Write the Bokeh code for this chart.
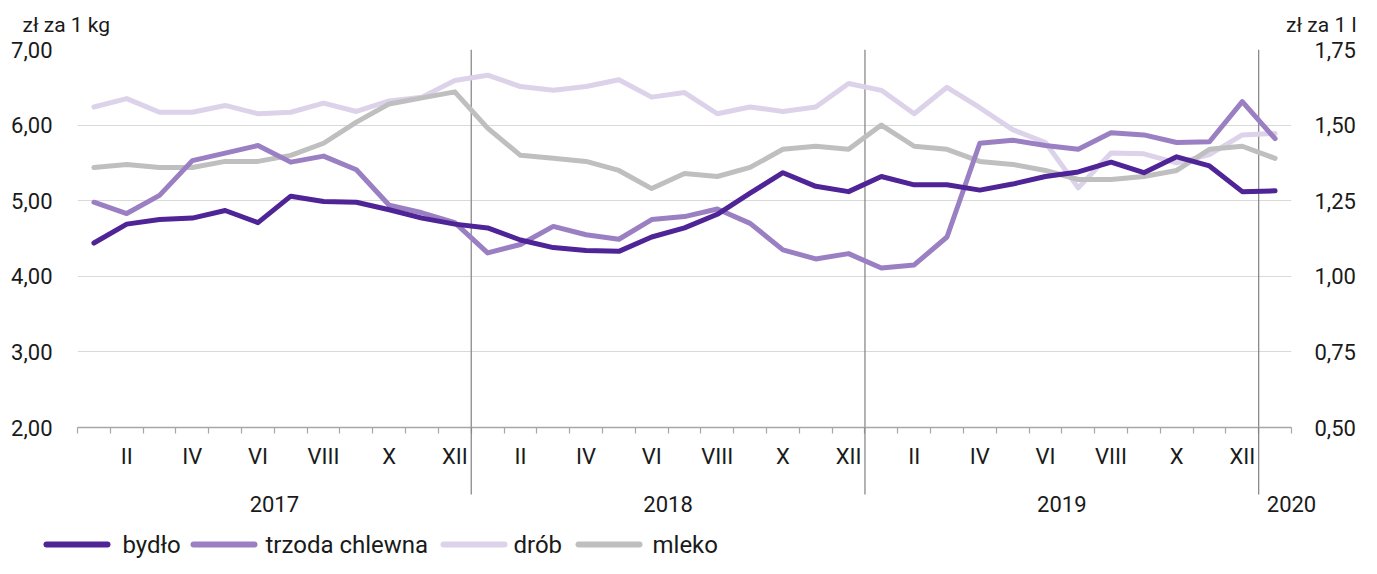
from bokeh.plotting import figure
from bokeh.models import Range1d, LinearAxis, FixedTicker, Grid
from bokeh.core.properties import value
from bokeh.embed import file_html
from bokeh.resources import INLINE

# ---------------- data ----------------
ROMAN = ["I", "II", "III", "IV", "V", "VI", "VII", "VIII", "IX", "X", "XI", "XII"]
YEARS = ["2017", "2018", "2019", "2020"]
N_MONTHS = 37  # I 2017 .. I 2020

bydlo = [4.44, 4.69, 4.75, 4.77, 4.87, 4.71, 5.06, 4.99, 4.98, 4.88, 4.77, 4.69,
         4.64, 4.48, 4.38, 4.34, 4.33, 4.52, 4.64, 4.82, 5.10, 5.37, 5.19, 5.12,
         5.32, 5.21, 5.21, 5.14, 5.22, 5.32, 5.38, 5.51, 5.37, 5.58, 5.46, 5.12, 5.13]
trzoda = [4.98, 4.83, 5.07, 5.53, 5.63, 5.73, 5.51, 5.59, 5.41, 4.94, 4.84, 4.71,
          4.31, 4.42, 4.66, 4.55, 4.49, 4.75, 4.79, 4.89, 4.70, 4.35, 4.23, 4.30,
          4.11, 4.15, 4.52, 5.76, 5.80, 5.73, 5.68, 5.90, 5.87, 5.77, 5.78, 6.31, 5.82]
drob = [6.24, 6.35, 6.17, 6.17, 6.26, 6.15, 6.17, 6.29, 6.18, 6.32, 6.37, 6.59,
        6.66, 6.51, 6.46, 6.51, 6.60, 6.37, 6.43, 6.15, 6.24, 6.18, 6.24, 6.55,
        6.46, 6.15, 6.50, 6.23, 5.94, 5.77, 5.17, 5.63, 5.62, 5.50, 5.61, 5.87, 5.89]
mleko = [1.36, 1.37, 1.36, 1.36, 1.38, 1.38, 1.40, 1.44, 1.51, 1.57, 1.59, 1.61,
         1.49, 1.40, 1.39, 1.38, 1.35, 1.29, 1.34, 1.33, 1.36, 1.42, 1.43, 1.42,
         1.50, 1.43, 1.42, 1.38, 1.37, 1.35, 1.32, 1.32, 1.33, 1.35, 1.42, 1.43, 1.39]

SERIES_NAMES = ["bydło", "trzoda chlewna", "drób", "mleko"]
LEFT_TICKS = [2.0, 3.0, 4.0, 5.0, 6.0, 7.0]
RIGHT_TICKS = [0.5, 0.75, 1.0, 1.25, 1.5, 1.75]
UNIT_LEFT = "zł za 1 kg"
UNIT_RIGHT = "zł za 1 l"

# ---------------- styles / layout ----------------
FONT = "Roboto"
TXT = "#1a1a1a"
COLORS = ["#4f2496", "#9b7fc3", "#dcd2ea", "#bfbfbf"]
C_AXIS = "#a6a6a6"
C_SEP = "#808080"

W, H = 1361, 558
B_TOP, B_LEFT, B_RIGHT = 49, 77, 70
FRAME_H = 378
B_BOTTOM = H - B_TOP - FRAME_H
FRAME_W = W - B_LEFT - B_RIGHT
px_per_unit = FRAME_H / (LEFT_TICKS[-1] - LEFT_TICKS[0])
px_per_month = FRAME_W / N_MONTHS

def data_x(px):            # canvas px -> data x
    return (px - B_LEFT) / px_per_month

def data_y(px):            # canvas px -> left-axis data y
    return LEFT_TICKS[-1] - (px - B_TOP) / px_per_unit

# legend layout (canvas px): sample-line start, label start
LEG_SAMPLE_X = [43, 190, 440, 575]
LEG_TEXT_X = [122, 265, 513, 652]
LEG_SAMPLE_LEN = 61
LEG_Y = 544

# ---------------- derived positions ----------------
x = [i + 0.5 for i in range(N_MONTHS)]
boundaries = [float(i) for i in range(N_MONTHS + 1)]
month_pos = [i + 0.5 for i in range(N_MONTHS) if (i % 12) % 2 == 1]
month_lab = {i + 0.5: ROMAN[i % 12] for i in range(N_MONTHS) if (i % 12) % 2 == 1}
year_sep = [12.0, 24.0, 36.0]
year_pos = [6.0, 18.0, 30.0, 37.0]
year_lab = dict(zip(year_pos, YEARS))

p = figure(width=W, height=H, x_range=Range1d(0, N_MONTHS),
           y_range=Range1d(LEFT_TICKS[0], LEFT_TICKS[-1]),
           x_axis_type=None, y_axis_type=None,
           output_backend="svg", toolbar_location=None,
           min_border_left=B_LEFT, min_border_right=B_RIGHT,
           min_border_top=B_TOP, min_border_bottom=B_BOTTOM)
p.outline_line_color = None
p.background_fill_color = "white"
p.extra_y_ranges = {"r": Range1d(RIGHT_TICKS[0], RIGHT_TICKS[-1])}

p.add_layout(Grid(dimension=1, ticker=FixedTicker(ticks=LEFT_TICKS),
                  grid_line_color="#d9d9d9", grid_line_width=1.2))

def fmt(v):
    return f"{v:.2f}".replace(".", ",")

yl = LinearAxis(ticker=FixedTicker(ticks=LEFT_TICKS),
                major_label_overrides={t: fmt(t) for t in LEFT_TICKS},
                axis_line_color=None, major_tick_line_color=None, minor_tick_line_color=None,
                major_label_standoff=19, major_label_text_font=FONT,
                major_label_text_font_size="22px", major_label_text_color=TXT)
p.add_layout(yl, "left")

yr = LinearAxis(y_range_name="r", ticker=FixedTicker(ticks=RIGHT_TICKS),
                major_label_overrides={t: fmt(t) for t in RIGHT_TICKS},
                axis_line_color=None, major_tick_line_color=None, minor_tick_line_color=None,
                major_label_standoff=17, major_label_text_font=FONT,
                major_label_text_font_size="22px", major_label_text_color=TXT)
p.add_layout(yr, "right")

xa = LinearAxis(ticker=FixedTicker(ticks=month_pos, minor_ticks=boundaries),
                major_label_overrides=month_lab,
                axis_line_color=C_AXIS, axis_line_width=1.5,
                major_tick_line_color=None, major_tick_out=0, major_tick_in=0,
                minor_tick_line_color=C_AXIS, minor_tick_line_width=1.2,
                minor_tick_out=6, minor_tick_in=0,
                major_label_standoff=10, major_label_text_font=FONT,
                major_label_text_font_size="22px", major_label_text_color=TXT)
p.add_layout(xa, "below")

xy = LinearAxis(ticker=FixedTicker(ticks=year_pos, minor_ticks=[]),
                major_label_overrides=year_lab,
                axis_line_color=None, major_tick_line_color=None, minor_tick_line_color=None,
                major_label_standoff=18, major_label_text_font=FONT,
                major_label_text_font_size="22px", major_label_text_color=TXT)
p.add_layout(xy, "below")

# year separators (inside the frame and continued below it)
p.segment(x0=year_sep, y0=[LEFT_TICKS[0]] * 3, x1=year_sep, y1=[LEFT_TICKS[-1]] * 3,
          line_color=C_SEP, line_width=1.2)
p.segment(x0=year_sep, y0=[LEFT_TICKS[0]] * 3, x1=year_sep, y1=[data_y(B_TOP + FRAME_H + 67)] * 3,
          line_color=C_SEP, line_width=1.2, level="overlay")

lw = 5
kw = dict(line_width=lw, line_join="round", line_cap="round")
p.line(x, drob, line_color=COLORS[2], **kw)
p.line(x, mleko, line_color=COLORS[3], y_range_name="r", **kw)
p.line(x, trzoda, line_color=COLORS[1], **kw)
p.line(x, bydlo, line_color=COLORS[0], **kw)

# unit captions above the value axes
p.text(x=[0], y=[data_y(B_TOP - 25)], text=[UNIT_LEFT], x_offset=-55, text_align="left",
       text_baseline="middle", text_font=value(FONT), text_font_size="21px",
       text_color=TXT, level="overlay")
p.text(x=[N_MONTHS], y=[data_y(B_TOP - 25)], text=[UNIT_RIGHT], x_offset=65, text_align="right",
       text_baseline="middle", text_font=value(FONT), text_font_size="21px",
       text_color=TXT, level="overlay")

# legend row below the axes
leg_y = data_y(LEG_Y)
p.segment(x0=[data_x(v + 3) for v in LEG_SAMPLE_X], y0=[leg_y] * 4,
          x1=[data_x(v + 3 + LEG_SAMPLE_LEN) for v in LEG_SAMPLE_X], y1=[leg_y] * 4,
          line_color=COLORS, line_width=6, line_cap="round", level="overlay")
p.text(x=[data_x(v) for v in LEG_TEXT_X], y=[leg_y] * 4, text=SERIES_NAMES,
       text_align="left", text_baseline="middle", text_font=value(FONT),
       text_font_size="24px", text_color=TXT, level="overlay")

open("out.html", "w").write(file_html(p, INLINE))
